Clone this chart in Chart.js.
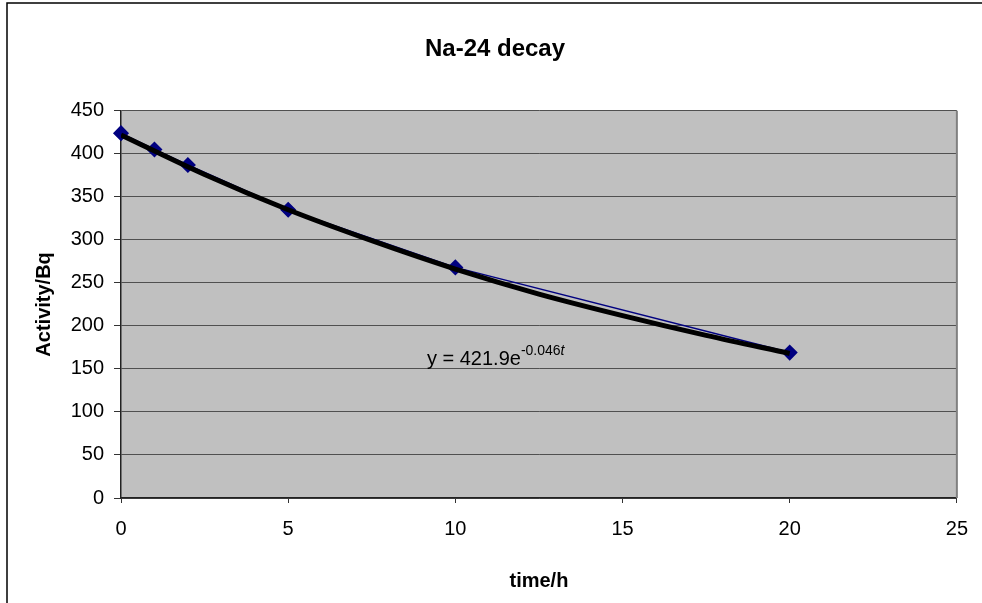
<!DOCTYPE html>
<html>
<head>
<meta charset="utf-8">
<script src="https://cdn.jsdelivr.net/npm/chart.js@4.4.0/dist/chart.umd.min.js"></script>
<style>
  html, body { margin: 0; padding: 0; background: #fff; }
</style>
</head>
<body>
<canvas id="chart" width="982" height="603"></canvas>
<script>
// ===================== DATA =====================
const hours = [0, 1, 2, 5, 10, 20];
const activity = [424, 405, 387, 335, 268, 169];

// exponential trendline, values
const trendHours = [0, 2.5, 5, 7.5, 10, 12.5, 15, 17.5, 20];
const trendActivity = [422, 376, 335, 299, 266, 237, 212, 189, 168];

const xTicks = [0, 5, 10, 15, 20, 25];
const yTicks = [0, 50, 100, 150, 200, 250, 300, 350, 400, 450];

const FONT = "'Liberation Sans', Arial, sans-serif";

// ===================== PLUGINS =====================
// outer frame + grey plot area
const frame = {
  id: "frame",
  beforeDraw(chart) {
    const { ctx, chartArea: a } = chart;
    ctx.save();
    ctx.strokeStyle = "#000";
    ctx.lineWidth = 1.5;
    ctx.strokeRect(7, 3, 1200, 1200);
    ctx.fillStyle = "#c0c0c0";
    ctx.fillRect(a.left, a.top, a.right - a.left, a.bottom - a.top);
    ctx.restore();
  },
  beforeDatasetsDraw(chart) {
    const { ctx, chartArea: a } = chart;
    ctx.save();
    ctx.strokeStyle = "#808080";
    ctx.lineWidth = 2;
    ctx.beginPath();
    ctx.moveTo(a.right, a.top);
    ctx.lineTo(a.right, a.bottom);
    ctx.stroke();
    ctx.restore();
  }
};

// trendline equation
const equation = {
  id: "equation",
  afterDatasetsDraw(chart) {
    const { ctx, scales } = chart;
    const x = scales.x.getPixelForValue(9.15);
    const y = scales.y.getPixelForValue(155);
    ctx.save();
    ctx.fillStyle = "#000";
    ctx.textBaseline = "alphabetic";
    ctx.textAlign = "left";
    ctx.font = "20px " + FONT;
    const main = "y = 421.9e";
    ctx.fillText(main, x, y);
    let cx = x + ctx.measureText(main).width;
    ctx.font = "14px " + FONT;
    ctx.fillText("-0.046", cx, y - 10);
    cx += ctx.measureText("-0.046").width;
    ctx.font = "italic 14px " + FONT;
    ctx.fillText("t", cx, y - 10);
    ctx.restore();
  }
};

// ===================== CHART =====================
const chart = new Chart(document.getElementById("chart"), {
  type: "line",
  data: {
    datasets: [
      {
        label: "trend",
        data: trendHours.map((t, i) => ({ x: t, y: trendActivity[i] })),
        borderColor: "#000000",
        borderWidth: 5,
        pointRadius: 0,
        cubicInterpolationMode: "monotone",
        fill: false,
        order: 0
      },
      {
        label: "Activity",
        data: hours.map((t, i) => ({ x: t, y: activity[i] })),
        borderColor: "#000080",
        backgroundColor: "#000080",
        borderWidth: 1.5,
        pointStyle: "rectRot",
        pointRadius: 7,
        pointBorderColor: "#000080",
        pointBackgroundColor: "#000080",
        tension: 0,
        fill: false,
        clip: false,
        order: 1
      }
    ]
  },
  options: {
    responsive: false,
    animation: false,
    devicePixelRatio: 1,
    layout: { padding: { left: 32, right: 24, top: 0, bottom: 10 } },
    plugins: {
      legend: { display: false },
      tooltip: { enabled: false },
      title: {
        display: true,
        text: "Na-24 decay",
        color: "#000",
        font: { family: FONT, size: 24, weight: "bold" },
        padding: { top: 35, bottom: 47 }
      }
    },
    scales: {
      x: {
        type: "linear",
        min: 0,
        max: 25,
        afterBuildTicks: s => { s.ticks = xTicks.map(v => ({ value: v })); },
        afterFit: s => { s.height = 95; },
        ticks: {
          color: "#000",
          font: { family: FONT, size: 20 },
          padding: 14,
          maxRotation: 0
        },
        grid: {
          drawOnChartArea: false,
          drawTicks: true,
          tickLength: 5,
          tickColor: "#333"
        },
        border: { color: "#222", width: 1.5 },
        title: {
          display: true,
          text: "time/h",
          color: "#000",
          font: { family: FONT, size: 20, weight: "bold" },
          padding: 0
        }
      },
      y: {
        min: 0,
        max: 450,
        afterBuildTicks: s => { s.ticks = yTicks.map(v => ({ value: v })); },
        afterFit: s => { s.width = 89; },
        ticks: {
          color: "#000",
          font: { family: FONT, size: 20 },
          padding: 10
        },
        grid: {
          color: "#505050",
          lineWidth: 1,
          tickLength: 7,
          tickColor: "#333"
        },
        border: { color: "#222", width: 1.5 },
        title: {
          display: true,
          text: "Activity/Bq",
          color: "#000",
          font: { family: FONT, size: 20, weight: "bold" },
          padding: 0
        }
      }
    }
  },
  plugins: [frame, equation]
});
</script>
</body>
</html>
